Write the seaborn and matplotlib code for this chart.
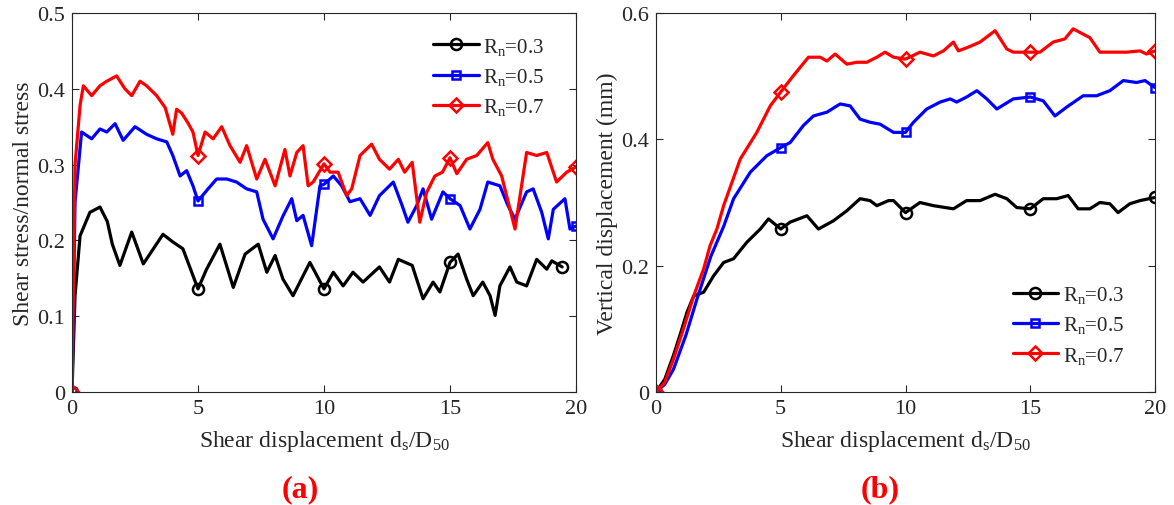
import numpy as np
import pandas as pd
import matplotlib
matplotlib.use('Agg')
import matplotlib.pyplot as plt
import seaborn as sns

# ---- data ----
# (a) shear stress / normal stress
a_x_03 = [0, 0.12, 0.32, 0.71, 1.11, 1.4, 1.6, 1.9, 2.37, 2.83, 3.61, 4.0, 4.4, 5.0, 5.34, 5.87, 6.4, 6.87,
          7.39, 7.73, 8.06, 8.37, 8.77, 9.44, 10.0, 10.37, 10.76, 11.15, 11.55, 12.2, 12.6, 12.95, 13.5, 13.93,
          14.33, 14.6, 15.0, 15.32, 15.66, 15.92, 16.3, 16.59, 16.79, 16.98, 17.38, 17.65, 18.04, 18.44, 18.84,
          19.04, 19.45]
a_y_03 = [0, 0.127, 0.206, 0.237, 0.244, 0.225, 0.195, 0.167, 0.211, 0.169, 0.208, 0.198, 0.189, 0.136, 0.162,
          0.195, 0.138, 0.182, 0.195, 0.158, 0.180, 0.149, 0.127, 0.171, 0.136, 0.158, 0.140, 0.158, 0.145, 0.165,
          0.145, 0.175, 0.167, 0.123, 0.145, 0.132, 0.171, 0.182, 0.149, 0.127, 0.145, 0.127, 0.101, 0.140, 0.165,
          0.145, 0.140, 0.175, 0.162, 0.173, 0.165]

a_x_05 = [0, 0.12, 0.38, 0.78, 1.11, 1.38, 1.71, 2.03, 2.5, 2.96, 3.36, 3.76, 4.0, 4.29, 4.55, 4.8, 5.0, 5.4,
          5.74, 6.14, 6.53, 6.93, 7.33, 7.58, 7.98, 8.37, 8.72, 8.92, 9.17, 9.51, 9.84, 10.0, 10.37, 10.7, 11.03,
          11.43, 11.83, 12.2, 12.75, 13.1, 13.33, 13.68, 13.93, 14.27, 14.72, 15.0, 15.4, 15.79, 16.19, 16.5,
          16.98, 17.3, 17.58, 18.04, 18.3, 18.64, 18.9, 19.1, 19.56, 19.76, 20.0]
a_y_05 = [0, 0.25, 0.343, 0.334, 0.347, 0.343, 0.354, 0.332, 0.350, 0.340, 0.334, 0.330, 0.312, 0.285, 0.292,
          0.272, 0.252, 0.268, 0.281, 0.281, 0.277, 0.268, 0.264, 0.228, 0.202, 0.232, 0.255, 0.226, 0.233, 0.193,
          0.272, 0.274, 0.285, 0.272, 0.251, 0.255, 0.233, 0.259, 0.277, 0.246, 0.224, 0.246, 0.268, 0.228, 0.264,
          0.255, 0.246, 0.215, 0.241, 0.277, 0.272, 0.246, 0.228, 0.264, 0.268, 0.237, 0.202, 0.241, 0.255, 0.215,
          0.219]

a_x_07 = [0, 0.12, 0.32, 0.45, 0.78, 1.11, 1.38, 1.77, 2.1, 2.37, 2.7, 2.96, 3.36, 3.7, 4.0, 4.15, 4.35, 4.6,
          4.8, 5.0, 5.28, 5.6, 5.94, 6.27, 6.67, 6.93, 7.33, 7.66, 8.06, 8.45, 8.65, 8.92, 9.17, 9.37, 9.57, 10.0,
          10.24, 10.56, 10.9, 11.1, 11.43, 11.89, 12.2, 12.6, 12.95, 13.2, 13.5, 13.8, 14.07, 14.4, 14.7, 15.0,
          15.27, 15.66, 16.06, 16.5, 16.7, 17.05, 17.58, 18.04, 18.44, 18.84, 19.23, 19.63, 20.0]
a_y_07 = [0, 0.30, 0.378, 0.404, 0.391, 0.404, 0.410, 0.417, 0.400, 0.391, 0.410, 0.404, 0.391, 0.375, 0.340,
          0.373, 0.368, 0.355, 0.343, 0.312, 0.343, 0.334, 0.350, 0.325, 0.303, 0.325, 0.281, 0.307, 0.272, 0.320,
          0.285, 0.316, 0.325, 0.272, 0.277, 0.301, 0.290, 0.290, 0.259, 0.268, 0.312, 0.327, 0.307, 0.294, 0.307,
          0.290, 0.303, 0.224, 0.263, 0.285, 0.290, 0.309, 0.288, 0.307, 0.312, 0.329, 0.307, 0.285, 0.215, 0.316,
          0.312, 0.316, 0.277, 0.290, 0.297]

# (b) vertical displacement (mm)
b_x_03 = [0, 0.35, 0.7, 1.0, 1.24, 1.51, 1.91, 2.31, 2.71, 3.11, 3.64, 4.18, 4.51, 5.0, 5.38, 6.05, 6.51, 7.11,
          7.65, 8.18, 8.58, 8.85, 9.32, 9.52, 10.0, 10.58, 11.12, 11.92, 12.45, 12.99, 13.59, 14.06, 14.46, 15.0,
          15.52, 16.06, 16.52, 16.92, 17.39, 17.79, 18.19, 18.52, 18.99, 19.4, 20.0]
b_y_03 = [0, 0.02, 0.058, 0.095, 0.126, 0.152, 0.158, 0.184, 0.205, 0.211, 0.237, 0.258, 0.274, 0.258, 0.269,
          0.279, 0.258, 0.271, 0.287, 0.306, 0.303, 0.295, 0.303, 0.303, 0.284, 0.300, 0.295, 0.290, 0.303, 0.303,
          0.313, 0.306, 0.292, 0.290, 0.306, 0.306, 0.311, 0.290, 0.290, 0.300, 0.298, 0.284, 0.298, 0.303, 0.308]

b_x_05 = [0, 0.35, 0.7, 1.2, 1.64, 2.2, 2.71, 3.11, 3.78, 4.44, 5.0, 5.38, 5.91, 6.31, 6.85, 7.38, 7.78, 8.18,
          8.58, 8.98, 9.52, 10.0, 10.32, 10.85, 11.39, 11.79, 12.05, 12.45, 12.86, 13.26, 13.66, 14.32, 15.0,
          15.52, 15.99, 16.46, 17.12, 17.66, 18.19, 18.73, 19.26, 19.6, 20.0]
b_y_05 = [0, 0.012, 0.036, 0.09, 0.147, 0.215, 0.262, 0.306, 0.348, 0.374, 0.387, 0.395, 0.422, 0.437, 0.443,
          0.456, 0.453, 0.432, 0.427, 0.424, 0.411, 0.411, 0.427, 0.448, 0.459, 0.464, 0.459, 0.467, 0.477, 0.464,
          0.448, 0.464, 0.467, 0.461, 0.437, 0.451, 0.469, 0.469, 0.477, 0.493, 0.490, 0.493, 0.482]

b_x_07 = [0, 0.35, 0.7, 1.1, 1.51, 1.91, 2.17, 2.44, 2.71, 3.38, 4.04, 4.58, 5.0, 5.51, 6.11, 6.58, 6.85, 7.18,
          7.65, 8.05, 8.45, 8.85, 9.18, 9.52, 10.0, 10.58, 11.12, 11.52, 11.92, 12.12, 12.52, 12.99, 13.59, 13.72,
          14.06, 14.32, 15.0, 15.39, 15.92, 16.39, 16.72, 17.0, 17.39, 17.79, 18.33, 18.86, 19.4, 19.66, 20.0]
b_y_07 = [0, 0.015, 0.052, 0.10, 0.152, 0.195, 0.232, 0.258, 0.295, 0.369, 0.411, 0.453, 0.475, 0.501, 0.530,
          0.530, 0.524, 0.535, 0.519, 0.522, 0.522, 0.530, 0.538, 0.530, 0.527, 0.538, 0.532, 0.540, 0.554, 0.540,
          0.546, 0.554, 0.572, 0.564, 0.543, 0.538, 0.538, 0.538, 0.554, 0.559, 0.575, 0.569, 0.561, 0.538, 0.538,
          0.538, 0.540, 0.535, 0.540]

labels = ['R$_\\mathrm{n}$=0.3', 'R$_\\mathrm{n}$=0.5', 'R$_\\mathrm{n}$=0.7']
colors = ['black', 'blue', 'red']
markers = ['o', 's', 'D']
msizes = [8, 6, 7.5]
marker_x = [0, 5, 10, 15, 19.45, 20]

sns.set_theme(style='ticks')
plt.rcParams['font.family'] = ['Liberation Serif', 'DejaVu Serif']
plt.rcParams['mathtext.fontset'] = 'custom'
plt.rcParams['mathtext.rm'] = 'Liberation Serif'
plt.rcParams['mathtext.it'] = 'Liberation Serif:italic'
plt.rcParams['mathtext.bf'] = 'Liberation Serif:bold'
txtc = '#262626'

fig = plt.figure(figsize=(11.74, 5.06), dpi=100)
ax1 = fig.add_axes([72 / 1174, 113 / 506, 504 / 1174, 379 / 506])
ax2 = fig.add_axes([656 / 1174, 113 / 506, 499 / 1174, 379 / 506])


def draw(ax, series):
    for (x, y), lab, c, m, ms in zip(series, labels, colors, markers, msizes):
        df = pd.DataFrame({'x': x, 'y': y})
        idx = [i for i, v in enumerate(x) if v in marker_x]
        sns.lineplot(data=df, x='x', y='y', ax=ax, color=c, label=lab, sort=False, errorbar=None,
                     linewidth=2.3, marker=m, markersize=ms, markevery=idx,
                     markerfacecolor='none', markeredgecolor=c, markeredgewidth=1.8)


draw(ax1, [(a_x_03, a_y_03), (a_x_05, a_y_05), (a_x_07, a_y_07)])
draw(ax2, [(b_x_03, b_y_03), (b_x_05, b_y_05), (b_x_07, b_y_07)])

for ax, ymax, yticks in [(ax1, 0.5, [0, 0.1, 0.2, 0.3, 0.4, 0.5]), (ax2, 0.6, [0, 0.2, 0.4, 0.6])]:
    ax.set_xlim(0, 20)
    ax.set_ylim(0, ymax)
    ax.set_xticks([0, 5, 10, 15, 20])
    ax.set_yticks(yticks)
    ax.set_yticklabels(['%g' % t for t in yticks])
    ax.tick_params(direction='in', top=True, right=True, labelsize=16, colors=txtc, length=5, width=0.8, pad=5)
    for s in ax.spines.values():
        s.set_visible(True)
        s.set_color(txtc)
        s.set_linewidth(0.8)
    ax.set_xlabel('Shear displacement d$_\\mathrm{s}$/D$_{50}$', fontsize=17, color=txtc, labelpad=7)

ax1.set_ylabel('Shear stress/normal stress', fontsize=17, color=txtc, labelpad=2)
ax2.set_ylabel('Vertical displacement (mm)', fontsize=17, color=txtc, labelpad=2)

ax1.legend(loc='upper right', bbox_to_anchor=(0.975, 0.99), frameon=False, fontsize=15, handlelength=2.2,
           labelspacing=0.45, handletextpad=0.2, labelcolor=txtc)
ax2.legend(loc='lower right', bbox_to_anchor=(0.975, 0.02), frameon=False, fontsize=15, handlelength=2.2,
           labelspacing=0.45, handletextpad=0.2, labelcolor=txtc)

fig.text(300 / 1174, 1 - 490 / 506, '(a)', color='red', fontsize=23, fontweight='bold', ha='center', va='center')
fig.text(880 / 1174, 1 - 490 / 506, '(b)', color='red', fontsize=23, fontweight='bold', ha='center', va='center')

fig.savefig('out.png', dpi=100)
